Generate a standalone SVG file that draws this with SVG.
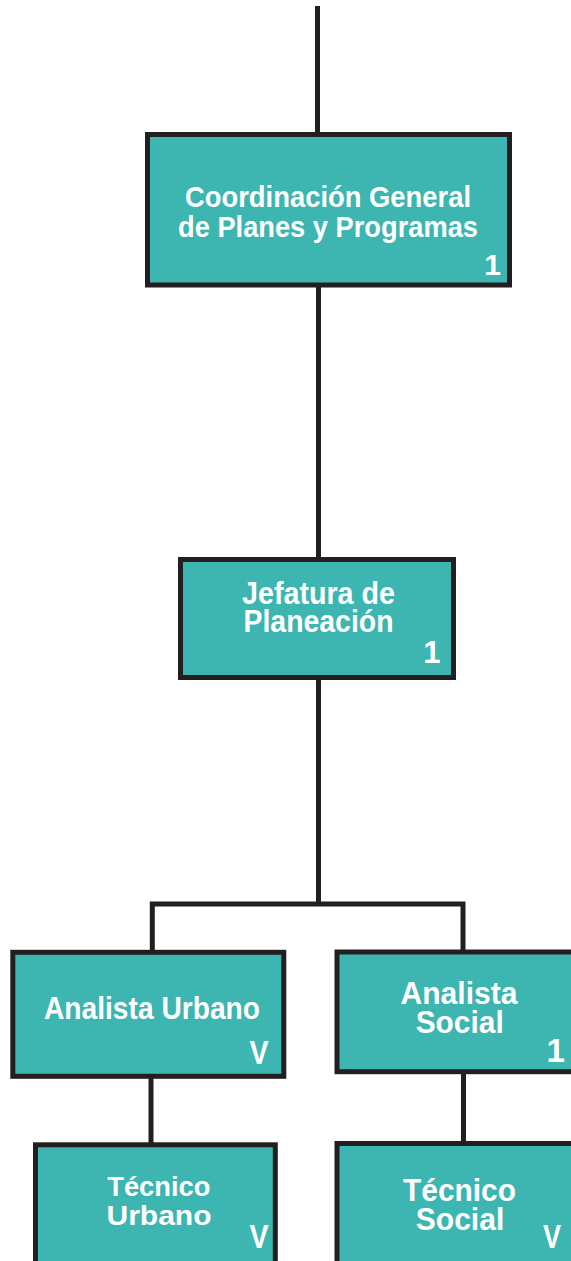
<svg xmlns="http://www.w3.org/2000/svg" width="571" height="1261" viewBox="0 0 571 1261">
<style>
.box{fill:#3db5b0;stroke:#231f20;stroke-width:5}
.ln{fill:none;stroke:#231f20;stroke-width:5}
.t{font-family:"Liberation Sans",Arial,sans-serif;font-weight:bold;fill:#ffffff;text-anchor:middle}
</style>
<rect width="571" height="1261" fill="#ffffff"/>
<g id="connectors">
<path class="ln" d="M317.5 6 V133"/>
<path class="ln" d="M318.5 287 V558"/>
<path class="ln" d="M318.5 679 V904 M152.3 904 H463 M152.3 901.5 V951 M463 901.5 V951"/>
<path class="ln" d="M151 1078 V1143"/>
<path class="ln" d="M463.5 1073 V1142"/>
</g>
<g id="n1">
<rect class="box" x="147.5" y="134.5" width="362" height="150.5"/>
<text class="t" x="328" y="207" font-size="30" textLength="286" lengthAdjust="spacingAndGlyphs">Coordinación General</text>
<text class="t" x="328" y="237" font-size="30" textLength="300" lengthAdjust="spacingAndGlyphs">de Planes y Programas</text>
<text class="t" x="492.5" y="275" font-size="30">1</text>
</g>
<g id="n2">
<rect class="box" x="180.5" y="559.5" width="273" height="118"/>
<text class="t" x="318.5" y="604" font-size="32" textLength="153" lengthAdjust="spacingAndGlyphs">Jefatura de</text>
<text class="t" x="318.5" y="631.7" font-size="32" textLength="150" lengthAdjust="spacingAndGlyphs">Planeación</text>
<text class="t" x="431.8" y="662.7" font-size="31">1</text>
</g>
<g id="n3">
<rect class="box" x="12.8" y="952.3" width="271" height="124"/>
<text class="t" x="152" y="1019" font-size="32" textLength="216" lengthAdjust="spacingAndGlyphs">Analista Urbano</text>
<text class="t" x="259" y="1064" font-size="33" textLength="19" lengthAdjust="spacingAndGlyphs">V</text>
</g>
<g id="n4">
<rect class="box" x="337" y="952" width="250" height="119.7"/>
<text class="t" x="459" y="1004" font-size="32" textLength="117" lengthAdjust="spacingAndGlyphs">Analista</text>
<text class="t" x="459.7" y="1033.3" font-size="32" textLength="88" lengthAdjust="spacingAndGlyphs">Social</text>
<text class="t" x="555.8" y="1061.7" font-size="33">1</text>
</g>
<g id="n5">
<rect class="box" x="35.5" y="1144.8" width="239.8" height="130"/>
<text class="t" x="158.8" y="1195.7" font-size="28" textLength="103" lengthAdjust="spacingAndGlyphs">Técnico</text>
<text class="t" x="159" y="1225" font-size="28" textLength="105" lengthAdjust="spacingAndGlyphs">Urbano</text>
<text class="t" x="259" y="1248.3" font-size="33" textLength="19" lengthAdjust="spacingAndGlyphs">V</text>
</g>
<g id="n6">
<rect class="box" x="337" y="1143.5" width="250" height="130"/>
<text class="t" x="459.5" y="1200.7" font-size="31" textLength="113" lengthAdjust="spacingAndGlyphs">Técnico</text>
<text class="t" x="460" y="1230" font-size="31" textLength="88.5" lengthAdjust="spacingAndGlyphs">Social</text>
<text class="t" x="552" y="1248.3" font-size="33" textLength="18" lengthAdjust="spacingAndGlyphs">V</text>
</g>
</svg>
